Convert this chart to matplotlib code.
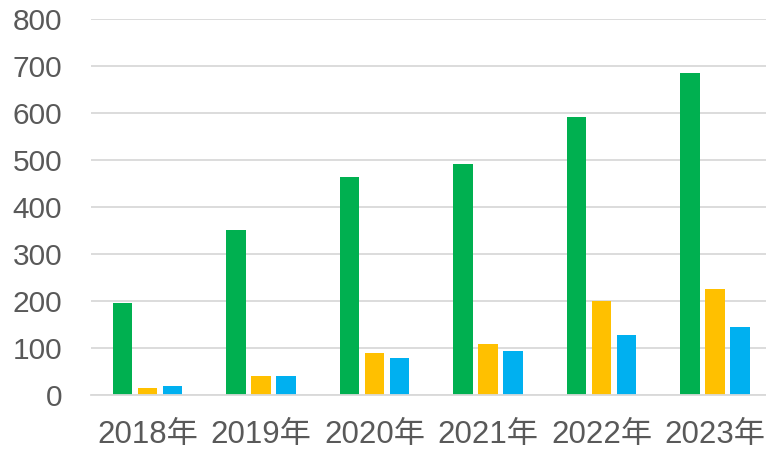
import numpy as np
import matplotlib
matplotlib.use('Agg')
import matplotlib.pyplot as plt

plt.rcParams['font.family'] = ['Liberation Sans', 'Noto Sans CJK SC']

years = ['2018年', '2019年', '2020年', '2021年', '2022年', '2023年']
green_vals = [196, 350, 464, 491, 591, 684]
yellow_vals = [14, 39, 88, 108, 199, 224]
blue_vals = [18, 39, 78, 93, 127, 143]

colors = ['#00B050', '#FFC000', '#00B0F0']  # 绿，黄，蓝

fig = plt.figure(figsize=(7.66, 4.53), dpi=100)
W, H = 766, 453
ax = fig.add_axes([90.75 / W, (H - 394.7) / H, 681 / W, (394.7 - 18.7) / H])

x = np.arange(len(years))
bw = 0.172
off = 0.22
ax.bar(x - off, green_vals, bw, color=colors[0], zorder=3)
ax.bar(x, yellow_vals, bw, color=colors[1], zorder=3)
ax.bar(x + off, blue_vals, bw, color=colors[2], zorder=3)

ax.set_xlim(-0.5, len(years) - 0.5)
ax.set_ylim(0, 800)
ax.set_yticks(range(0, 801, 100))
ax.set_xticks(x)
ax.set_xticklabels(years)

ax.grid(axis='y', color='#D9D9D9', linewidth=1.3, zorder=0)
for s in ['top', 'right', 'left']:
    ax.spines[s].set_visible(False)
ax.spines['bottom'].set_color('#D9D9D9')
ax.spines['bottom'].set_linewidth(1.3)
ax.spines['bottom'].set_zorder(4)

ax.tick_params(axis='y', length=0, pad=20.5, labelsize=21.5, labelcolor='#595959')
ax.tick_params(axis='x', length=0, pad=18.5, labelsize=22.5, labelcolor='#595959')

plt.savefig('out.png', dpi=100)
